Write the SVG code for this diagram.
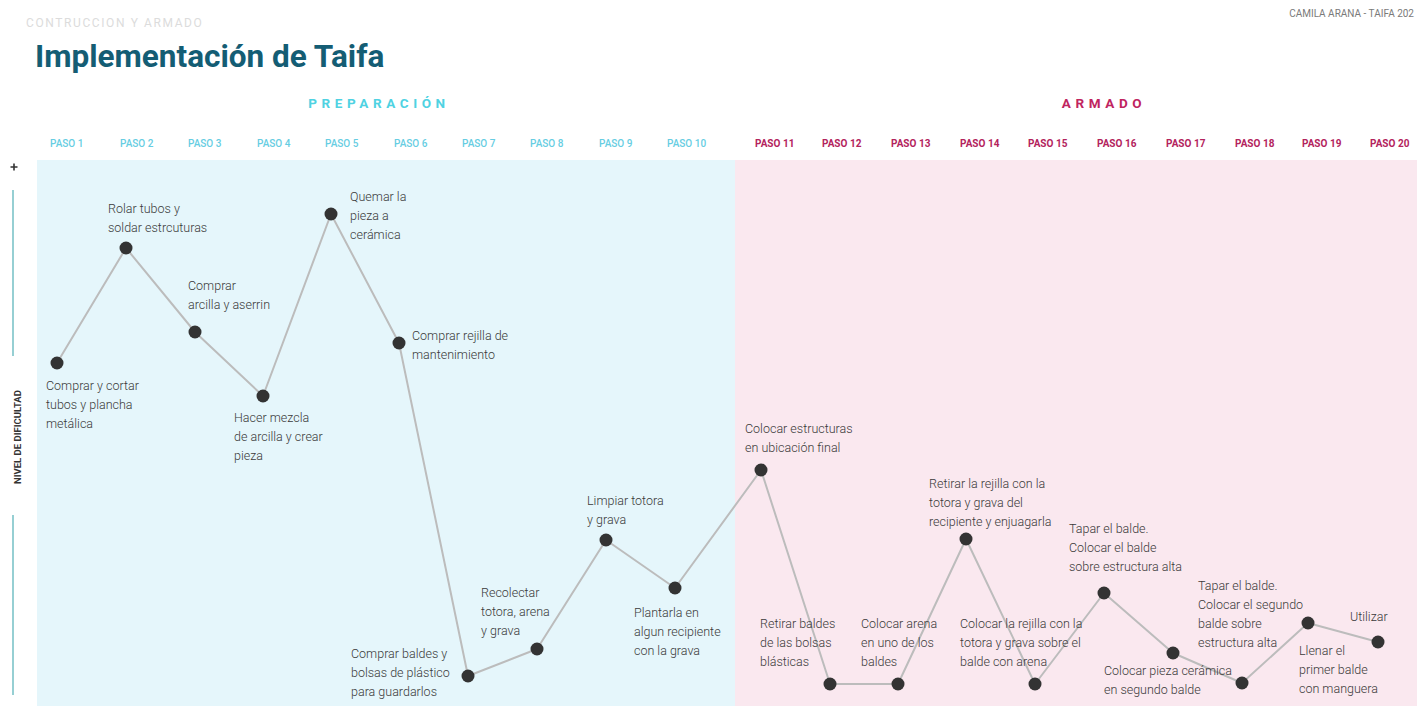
<svg xmlns="http://www.w3.org/2000/svg" width="1417" height="706" viewBox="0 0 1417 706">
<style>
  .lbl { font-family: Roboto, "Liberation Sans", sans-serif; font-size: 12.5px; font-weight: 300; fill: #3a3a3a; }
  .pb { font-family: Roboto, "Liberation Sans", sans-serif; font-size: 10px; font-weight: 500; fill: #66cde2; }
  .pp { font-family: Roboto, "Liberation Sans", sans-serif; font-size: 10px; font-weight: 700; fill: #b3235d; }
  .dot { fill: #333333; }
  .edge { fill: none; stroke: #bcbcbc; stroke-width: 2; stroke-linejoin: round; }
</style>
<rect x="0" y="0" width="1417" height="706" fill="#ffffff"/>
<rect x="37" y="160" width="698" height="546" fill="#e5f6fb"/>
<rect x="735" y="160" width="682" height="546" fill="#fae8ef"/>

<text x="26" y="27" font-family="Roboto, 'Liberation Sans', sans-serif" font-size="12" letter-spacing="1.6" fill="#dcdcdc">CONTRUCCION Y ARMADO</text>
<text x="35" y="67" font-family="Roboto, 'Liberation Sans', sans-serif" font-size="31.5" font-weight="700" fill="#145d74">Implementación de Taifa</text>
<text x="1414" y="17" text-anchor="end" font-family="Roboto, 'Liberation Sans', sans-serif" font-size="10" fill="#7a7a7a">CAMILA ARANA - TAIFA 202</text>

<text x="379" y="108" text-anchor="middle" font-family="Roboto, 'Liberation Sans', sans-serif" font-size="13.5" font-weight="700" letter-spacing="4.6" fill="#4fd2e2">PREPARACIÓN</text>
<text x="1104" y="108" text-anchor="middle" font-family="Roboto, 'Liberation Sans', sans-serif" font-size="13.5" font-weight="700" letter-spacing="4.6" fill="#c0255f">ARMADO</text>

<g id="steps">
  <text class="pb" x="50" y="147">PASO 1</text>
  <text class="pb" x="120" y="147">PASO 2</text>
  <text class="pb" x="188" y="147">PASO 3</text>
  <text class="pb" x="257" y="147">PASO 4</text>
  <text class="pb" x="325" y="147">PASO 5</text>
  <text class="pb" x="394" y="147">PASO 6</text>
  <text class="pb" x="462" y="147">PASO 7</text>
  <text class="pb" x="530" y="147">PASO 8</text>
  <text class="pb" x="599" y="147">PASO 9</text>
  <text class="pb" x="667" y="147">PASO 10</text>
  <text class="pp" x="755" y="147">PASO 11</text>
  <text class="pp" x="822" y="147">PASO 12</text>
  <text class="pp" x="891" y="147">PASO 13</text>
  <text class="pp" x="960" y="147">PASO 14</text>
  <text class="pp" x="1028" y="147">PASO 15</text>
  <text class="pp" x="1097" y="147">PASO 16</text>
  <text class="pp" x="1166" y="147">PASO 17</text>
  <text class="pp" x="1235" y="147">PASO 18</text>
  <text class="pp" x="1302" y="147">PASO 19</text>
  <text class="pp" x="1370" y="147">PASO 20</text>
</g>

<g id="axis">
  <path d="M10.5 167H17.5M14 163.5V170.5" stroke="#333" stroke-width="1.6"/>
  <line x1="13" y1="190" x2="13" y2="356" stroke="#7cc3c8" stroke-width="1.6"/>
  <line x1="13" y1="515" x2="13" y2="695" stroke="#7cc3c8" stroke-width="1.6"/>
  <text transform="translate(20.5 437) rotate(-90)" text-anchor="middle" font-family="Roboto, 'Liberation Sans', sans-serif" font-size="9.5" font-weight="700" fill="#333">NIVEL DE DIFICULTAD</text>
</g>

<g id="connectors">
  <polyline class="edge" points="57,363 126,248 195,332 263,396 331,214 399,343 468,676 537,649 606,540 675,588 761,470 830,684 898,684 966,539 1035,684 1104,593 1173,653 1242,683 1308,623 1378,642"/>
</g>

<g id="node1"><circle class="dot" cx="57" cy="363" r="6.5"/><text class="lbl" x="46" y="390">Comprar y cortar<tspan x="46" dy="19">tubos y plancha</tspan><tspan x="46" dy="19">metálica</tspan></text></g>
<g id="node2"><circle class="dot" cx="126" cy="248" r="6.5"/><text class="lbl" x="108" y="213">Rolar tubos y<tspan x="108" dy="19">soldar estrcuturas</tspan></text></g>
<g id="node3"><circle class="dot" cx="195" cy="332" r="6.5"/><text class="lbl" x="188" y="290">Comprar<tspan x="188" dy="19">arcilla y aserrin</tspan></text></g>
<g id="node4"><circle class="dot" cx="263" cy="396" r="6.5"/><text class="lbl" x="234" y="422">Hacer mezcla<tspan x="234" dy="19">de arcilla y crear</tspan><tspan x="234" dy="19">pieza</tspan></text></g>
<g id="node5"><circle class="dot" cx="331" cy="214" r="6.5"/><text class="lbl" x="350" y="201">Quemar la<tspan x="350" dy="19">pieza a</tspan><tspan x="350" dy="19">cerámica</tspan></text></g>
<g id="node6"><circle class="dot" cx="399" cy="343" r="6.5"/><text class="lbl" x="412" y="340">Comprar rejilla de<tspan x="412" dy="19">mantenimiento</tspan></text></g>
<g id="node7"><circle class="dot" cx="468" cy="676" r="6.5"/><text class="lbl" x="351" y="658">Comprar baldes y<tspan x="351" dy="19">bolsas de plástico</tspan><tspan x="351" dy="19">para guardarlos</tspan></text></g>
<g id="node8"><circle class="dot" cx="537" cy="649" r="6.5"/><text class="lbl" x="481" y="597">Recolectar<tspan x="481" dy="19">totora, arena</tspan><tspan x="481" dy="19">y grava</tspan></text></g>
<g id="node9"><circle class="dot" cx="606" cy="540" r="6.5"/><text class="lbl" x="587" y="505">Limpiar totora<tspan x="587" dy="19">y grava</tspan></text></g>
<g id="node10"><circle class="dot" cx="675" cy="588" r="6.5"/><text class="lbl" x="634" y="617">Plantarla en<tspan x="634" dy="19">algun recipiente</tspan><tspan x="634" dy="19">con la grava</tspan></text></g>
<g id="node11"><circle class="dot" cx="761" cy="470" r="6.5"/><text class="lbl" x="745" y="433">Colocar estructuras<tspan x="745" dy="19">en ubicación final</tspan></text></g>
<g id="node12"><circle class="dot" cx="830" cy="684" r="6.5"/><text class="lbl" x="760" y="628">Retirar baldes<tspan x="760" dy="19">de las bolsas</tspan><tspan x="760" dy="19">blásticas</tspan></text></g>
<g id="node13"><circle class="dot" cx="898" cy="684" r="6.5"/><text class="lbl" x="861" y="628">Colocar arena<tspan x="861" dy="19">en uno de los</tspan><tspan x="861" dy="19">baldes</tspan></text></g>
<g id="node14"><circle class="dot" cx="966" cy="539" r="6.5"/><text class="lbl" x="929" y="488">Retirar la rejilla con la<tspan x="929" dy="19">totora y grava del</tspan><tspan x="929" dy="19">recipiente y enjuagarla</tspan></text></g>
<g id="node15"><circle class="dot" cx="1035" cy="684" r="6.5"/><text class="lbl" x="960" y="628">Colocar la rejilla con la<tspan x="960" dy="19">totora y grava sobre el</tspan><tspan x="960" dy="19">balde con arena</tspan></text></g>
<g id="node16"><circle class="dot" cx="1104" cy="593" r="6.5"/><text class="lbl" x="1069" y="533">Tapar el balde.<tspan x="1069" dy="19">Colocar el balde</tspan><tspan x="1069" dy="19">sobre estructura alta</tspan></text></g>
<g id="node17"><circle class="dot" cx="1173" cy="653" r="6.5"/><text class="lbl" x="1104" y="675">Colocar pieza cerámica<tspan x="1104" dy="19">en segundo balde</tspan></text></g>
<g id="node18"><circle class="dot" cx="1242" cy="683" r="6.5"/><text class="lbl" x="1198" y="590">Tapar el balde.<tspan x="1198" dy="19">Colocar el segundo</tspan><tspan x="1198" dy="19">balde sobre</tspan><tspan x="1198" dy="19">estructura alta</tspan></text></g>
<g id="node19"><circle class="dot" cx="1308" cy="623" r="6.5"/><text class="lbl" x="1299" y="655">Llenar el<tspan x="1299" dy="19">primer balde</tspan><tspan x="1299" dy="19">con manguera</tspan></text></g>
<g id="node20"><circle class="dot" cx="1378" cy="642" r="6.5"/><text class="lbl" x="1350" y="621">Utilizar</text></g>
</svg>
